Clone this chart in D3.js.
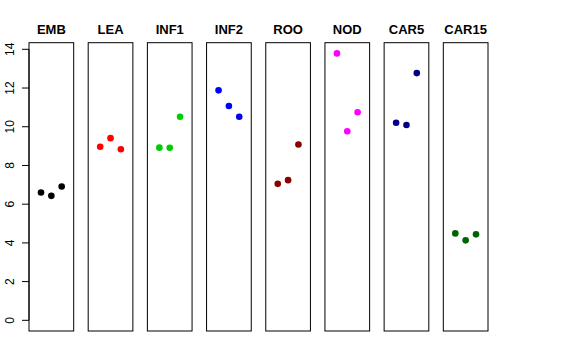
<!DOCTYPE html>
<html>
<head>
<meta charset="utf-8">
<script src="https://cdn.jsdelivr.net/npm/d3@7"></script>
<style>
  body { margin: 0; background: #fff; }
  svg { display: block; font-family: "Liberation Sans", Arial, sans-serif; }
</style>
</head>
<body>
<div id="chart"></div>
<script>
// sample groups, one panel each
const groups = ["EMB", "LEA", "INF1", "INF2", "ROO", "NOD", "CAR5", "CAR15"];
const colors = ["#000000", "#FF0000", "#00CD00", "#0000FF", "#8B0000", "#FF00FF", "#00008B", "#006400"];
// three replicate values per group
const rep1 = [6.60, 8.97, 8.92, 11.88, 7.05, 13.79, 10.21, 4.49];
const rep2 = [6.43, 9.41, 8.91, 11.07, 7.24, 9.77, 10.09, 4.13];
const rep3 = [6.91, 8.84, 10.52, 10.52, 9.08, 10.75, 12.77, 4.44];
const yTicks = [0, 2, 4, 6, 8, 10, 12, 14];

const width = 576;
const height = 360;

const svg = d3.select("#chart")
  .append("svg")
  .attr("width", width)
  .attr("height", height);

// R style ylim c(0, max) with 4% extension
const yMax = d3.max([rep1, rep2, rep3].flat());
const ext = yMax * 0.04;
const y = d3.scaleLinear()
  .domain([-ext, yMax + ext])
  .range([331, 42.7]);

const panel = d3.scaleBand()
  .domain(groups)
  .range([29, 488])
  .paddingInner(0.245)
  .paddingOuter(0);

// x within a panel: replicates 1..3 on xlim c(0,4)
const x = d3.scaleLinear()
  .domain([-0.16, 4.16])
  .range([0, panel.bandwidth()]);

const data = groups.map((g, i) => ({
  group: g,
  color: colors[i],
  values: [rep1[i], rep2[i], rep3[i]]
}));

const panels = svg.selectAll("g.panel")
  .data(data)
  .enter()
  .append("g")
  .attr("class", "panel")
  .attr("transform", d => `translate(${panel(d.group)},0)`);

panels.append("rect")
  .attr("x", 0)
  .attr("y", y.range()[1])
  .attr("width", panel.bandwidth())
  .attr("height", y.range()[0] - y.range()[1])
  .attr("fill", "none")
  .attr("stroke", "#000")
  .attr("stroke-width", 1);

panels.append("text")
  .attr("x", panel.bandwidth() / 2)
  .attr("y", 34)
  .attr("text-anchor", "middle")
  .attr("font-size", 13)
  .attr("font-weight", "bold")
  .text(d => d.group);

panels.selectAll("circle")
  .data(d => d.values.map((v, j) => ({ v: v, j: j + 1, color: d.color })))
  .enter()
  .append("circle")
  .attr("cx", d => x(d.j))
  .attr("cy", d => y(d.v))
  .attr("r", 3.3)
  .attr("fill", d => d.color);

// y axis on the first panel
const axisX = panel(groups[0]);
const axis = svg.append("g");
axis.append("line")
  .attr("x1", axisX).attr("x2", axisX)
  .attr("y1", y(yTicks[0])).attr("y2", y(yTicks[yTicks.length - 1]))
  .attr("stroke", "#000");

axis.selectAll("line.tick")
  .data(yTicks)
  .enter()
  .append("line")
  .attr("class", "tick")
  .attr("x1", axisX - 7)
  .attr("x2", axisX)
  .attr("y1", d => y(d))
  .attr("y2", d => y(d))
  .attr("stroke", "#000");

axis.selectAll("text")
  .data(yTicks)
  .enter()
  .append("text")
  .attr("transform", d => `translate(14,${y(d)}) rotate(-90)`)
  .attr("text-anchor", "middle")
  .attr("font-size", 12)
  .text(d => d);
</script>
</body>
</html>
